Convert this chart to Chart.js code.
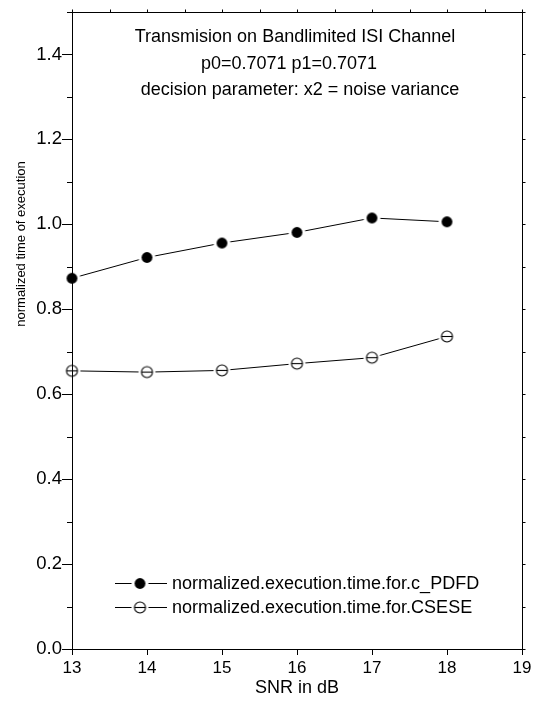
<!DOCTYPE html>
<html>
<head>
<meta charset="utf-8">
<script src="https://cdn.jsdelivr.net/npm/chart.js@4.4.1/dist/chart.umd.min.js"></script>
<style>
html,body{margin:0;padding:0;background:#fff;}
canvas{display:block;}
</style>
</head>
<body>
<canvas id="c" width="539" height="702"></canvas>
<script>
// ---- data ----
const snr = [13, 14, 15, 16, 17, 18];
const pdfdValues = [0.873, 0.922, 0.956, 0.981, 1.015, 1.006];
const cseseValues = [0.655, 0.652, 0.656, 0.672, 0.686, 0.736];
const seriesLabels = ['normalized.execution.time.for.c_PDFD', 'normalized.execution.time.for.CSESE'];
const xTicks = [13, 14, 15, 16, 17, 18, 19];
const yTicks = [0, 0.2, 0.4, 0.6, 0.8, 1.0, 1.2, 1.4];
const titleLines = ['Transmision on Bandlimited ISI Channel', 'p0=0.7071 p1=0.7071', 'decision parameter: x2 = noise variance'];
const xTitle = 'SNR in dB';
const yTitle = 'normalized time of execution';

const FONT = '"Liberation Sans", Arial, sans-serif';

function makeMarker(filled) {
  const c = document.createElement('canvas');
  c.width = 21; c.height = 21;
  const g = c.getContext('2d');
  g.fillStyle = '#fff';
  g.beginPath(); g.arc(10.5, 10.5, 8.5, 0, Math.PI * 2); g.fill();
  g.strokeStyle = '#000'; g.fillStyle = '#000'; g.lineWidth = 1.1;
  if (filled) {
    g.beginPath(); g.arc(10.5, 10.5, 5.4, 0, Math.PI * 2); g.fill();
  } else {
    g.beginPath(); g.arc(10.5, 10.5, 5.5, 0, Math.PI * 2); g.stroke();
    g.beginPath(); g.moveTo(5, 10.5); g.lineTo(16, 10.5); g.stroke();
  }
  return c;
}
const filledMarker = makeMarker(true);
const openMarker = makeMarker(false);

const decorPlugin = {
  id: 'decor',
  afterDraw(chart) {
    const ctx = chart.ctx;
    const a = chart.chartArea;
    const xs = chart.scales.x, ys = chart.scales.y;
    ctx.save();
    ctx.strokeStyle = '#000';
    ctx.lineWidth = 1;
    // frame
    ctx.strokeRect(Math.round(a.left) + 0.5, Math.round(a.top) + 0.5, Math.round(a.right - a.left), Math.round(a.bottom - a.top));
    // minor ticks
    ctx.beginPath();
    for (let i = 0; i <= 15; i++) {
      const v = i / 10;
      const py = Math.round(ys.getPixelForValue(v)) + 0.5;
      ctx.moveTo(Math.round(a.right) + 0.5, py); ctx.lineTo(Math.round(a.right) + 3.5, py);
      if (i % 2 === 1) {
        ctx.moveTo(Math.round(a.left) + 0.5, py); ctx.lineTo(Math.round(a.left) - 5, py);
      }
    }
    for (let i = 0; i <= 12; i++) {
      const v = 13 + i / 2;
      const px = Math.round(xs.getPixelForValue(v)) + 0.5;
      ctx.moveTo(px, Math.round(a.top) + 0.5); ctx.lineTo(px, Math.round(a.top) - 2.5);
    }
    ctx.stroke();

    // title lines
    ctx.fillStyle = '#000';
    ctx.font = '18px ' + FONT;
    ctx.textAlign = 'center';
    ctx.textBaseline = 'middle';
    const tx = [295, 289, 300], ty = [37, 64, 90];
    titleLines.forEach((t, i) => ctx.fillText(t, tx[i], ty[i]));

    // x title
    ctx.fillText(xTitle, (a.left + a.right) / 2, 688);

    // y title
    ctx.save();
    ctx.font = '13px ' + FONT;
    ctx.translate(21, 244);
    ctx.rotate(-Math.PI / 2);
    ctx.fillText(yTitle, 0, 0);
    ctx.restore();

    // legend
    ctx.font = '18px ' + FONT;
    ctx.textAlign = 'left';
    const ly = [583, 607];
    const markers = [filledMarker, openMarker];
    chart.data.datasets.forEach((ds, i) => {
      const y = ly[i];
      ctx.beginPath();
      ctx.moveTo(115, y + 0.5); ctx.lineTo(167, y + 0.5);
      ctx.stroke();
      ctx.drawImage(markers[i], 140 - 10.5, y - 10);
      ctx.fillText(ds.label, 172, y + 1);
    });
    ctx.restore();
  }
};

new Chart(document.getElementById('c'), {
  type: 'line',
  data: {
    datasets: [
      {
        label: seriesLabels[0],
        data: snr.map((x, i) => ({ x: x, y: pdfdValues[i] })),
        borderColor: '#000', borderWidth: 1,
        pointStyle: filledMarker, pointRadius: 6,
        tension: 0, clip: false
      },
      {
        label: seriesLabels[1],
        data: snr.map((x, i) => ({ x: x, y: cseseValues[i] })),
        borderColor: '#000', borderWidth: 1,
        pointStyle: openMarker, pointRadius: 6,
        tension: 0, clip: false
      }
    ]
  },
  options: {
    responsive: false,
    devicePixelRatio: 1,
    animation: false,
    events: [],
    layout: { padding: { left: 0, right: 17, top: 12, bottom: 0 } },
    plugins: { legend: { display: false }, title: { display: false }, tooltip: { enabled: false } },
    scales: {
      x: {
        type: 'linear', min: 13, max: 19,
        afterBuildTicks: s => { s.ticks = xTicks.map(v => ({ value: v })); },
        afterFit: s => { s.height = 53; },
        grid: { drawOnChartArea: false, drawTicks: true, tickLength: 6, color: '#000' },
        border: { display: true, color: '#000', width: 1 },
        ticks: { color: '#000', font: { family: FONT, size: 17 }, padding: 3, maxRotation: 0, autoSkip: false, callback: v => String(v) }
      },
      y: {
        type: 'linear', min: 0, max: 1.5,
        afterBuildTicks: s => { s.ticks = yTicks.map(v => ({ value: v })); },
        afterFit: s => { s.width = 72; },
        grid: { drawOnChartArea: false, drawTicks: true, tickLength: 10, color: '#000' },
        border: { display: true, color: '#000', width: 1 },
        ticks: { color: '#000', font: { family: FONT, size: 18.5 }, padding: 0, autoSkip: false, callback: v => Number(v).toFixed(1) }
      }
    }
  },
  plugins: [decorPlugin]
});
</script>
</body>
</html>
